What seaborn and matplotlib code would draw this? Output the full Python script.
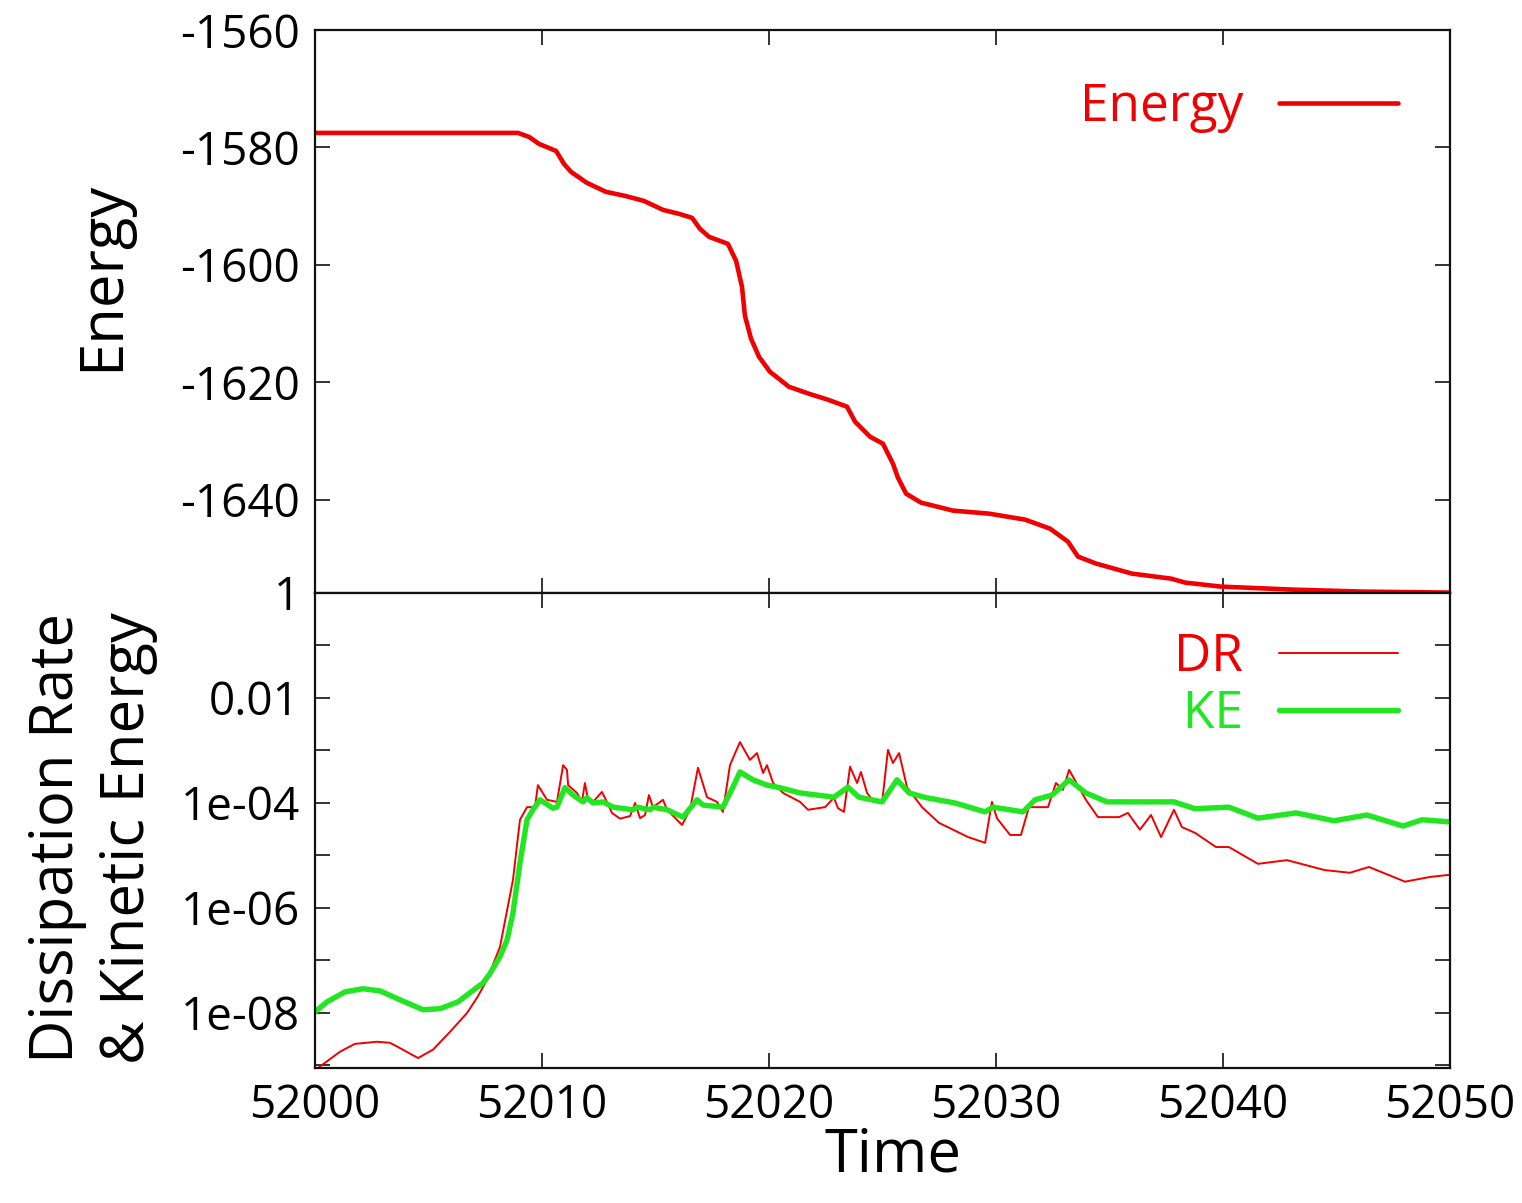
import numpy as np
import pandas as pd
import matplotlib
matplotlib.use("Agg")
import matplotlib.pyplot as plt
import seaborn as sns
from matplotlib.ticker import FixedLocator, NullFormatter, FixedFormatter

# ---------------- data ----------------
t_energy = [52000.0, 52008.94, 52009.43, 52009.87, 52010.62, 52010.97, 52011.28, 52011.98,
            52012.82, 52013.66, 52014.49, 52015.33, 52016.04, 52016.61, 52016.96, 52017.36,
            52018.19, 52018.55, 52018.81, 52018.94, 52019.21, 52019.56, 52020.04, 52020.88,
            52021.76, 52022.60, 52023.44, 52023.79, 52024.45, 52025.02, 52025.46, 52025.68,
            52026.04, 52026.70, 52028.11, 52029.69, 52031.28, 52032.38, 52033.17, 52033.61,
            52034.41, 52035.99, 52037.71, 52038.33, 52039.91, 52043.04, 52046.17, 52050.0]
energy = [-1577.53, -1577.53, -1578.21, -1579.40, -1580.60, -1582.81, -1584.17, -1586.04,
          -1587.57, -1588.26, -1589.11, -1590.64, -1591.32, -1592.00, -1593.87, -1595.23,
          -1596.43, -1599.32, -1603.74, -1608.68, -1612.60, -1615.66, -1618.21, -1620.77,
          -1621.96, -1622.98, -1624.17, -1626.72, -1629.28, -1630.47, -1633.87, -1636.26,
          -1638.98, -1640.51, -1641.87, -1642.38, -1643.40, -1644.94, -1647.15, -1649.70,
          -1650.89, -1652.60, -1653.45, -1654.13, -1654.81, -1655.32, -1655.66, -1655.83]

t_ke = [52000.0, 52000.53, 52001.32, 52002.11, 52002.86, 52003.74, 52004.76, 52005.51, 52006.30,
        52007.00, 52007.40, 52007.71, 52008.15, 52008.46, 52008.72,
        52009.03, 52009.34, 52009.60, 52009.91, 52010.48, 52010.66, 52011.01, 52011.37, 52011.81,
        52011.98, 52012.25, 52012.69, 52013.13, 52014.01, 52014.19, 52014.76, 52014.89, 52015.51,
        52016.21, 52016.83, 52017.09, 52017.97, 52018.41, 52018.72, 52019.30, 52019.91, 52020.48,
        52021.37, 52022.86, 52023.48, 52023.96, 52024.98, 52025.64, 52026.17, 52026.92, 52028.19,
        52029.52, 52029.87, 52031.19, 52031.72, 52032.47, 52033.22, 52033.96, 52034.89, 52036.17,
        52037.84, 52038.77, 52040.26, 52041.54, 52043.22, 52044.89, 52046.34, 52047.93, 52048.77,
        52049.96]
ke_log10 = [-7.98, -7.79, -7.60, -7.54, -7.58, -7.75, -7.94, -7.92, -7.79,
            -7.56, -7.43, -7.25, -6.93, -6.61, -6.10,
            -5.14, -4.32, -4.13, -3.94, -4.10, -4.08, -3.71, -3.85, -3.98,
            -3.90, -4.00, -3.98, -4.08, -4.13, -4.08, -4.13, -4.08, -4.13,
            -4.27, -3.94, -4.04, -4.08, -3.70, -3.41, -3.56, -3.66, -3.71,
            -3.81, -3.89, -3.70, -3.89, -3.98, -3.56, -3.81, -3.90, -4.00,
            -4.17, -4.08, -4.17, -3.94, -3.85, -3.56, -3.81, -3.98, -3.98,
            -3.98, -4.11, -4.08, -4.29, -4.19, -4.34, -4.23, -4.44, -4.32,
            -4.36]

t_dr = [52000.13, 52001.10, 52001.76, 52002.73, 52003.30, 52003.74, 52004.54, 52005.20, 52005.95,
        52006.70, 52007.14, 52007.58, 52008.15,
        52008.72, 52009.03, 52009.34, 52009.69, 52009.82, 52010.22, 52010.66, 52010.93, 52011.10,
        52011.15, 52011.54, 52011.76, 52011.89, 52012.03, 52012.25, 52012.64, 52012.86, 52013.08,
        52013.44, 52013.88, 52014.10, 52014.32, 52014.54, 52014.71, 52014.89, 52015.33, 52015.51,
        52016.17, 52016.52, 52016.87, 52017.27, 52017.71, 52017.97, 52018.28, 52018.72, 52019.16,
        52019.47, 52019.74, 52019.91, 52020.18, 52020.62, 52021.37, 52021.72, 52022.47, 52022.86,
        52023.04, 52023.30, 52023.57, 52023.88, 52024.05, 52024.32, 52024.63, 52024.98, 52025.24,
        52025.46, 52025.73, 52026.08, 52026.74, 52027.49, 52028.77, 52029.52, 52029.82, 52030.04,
        52030.62, 52031.10, 52031.45, 52032.29, 52032.64, 52032.95, 52033.22, 52033.96, 52034.49,
        52035.42, 52035.81, 52036.34, 52036.83, 52037.27, 52037.84, 52038.19, 52038.77, 52039.69,
        52040.26, 52041.54, 52042.82, 52044.49, 52045.59, 52046.43, 52048.02, 52049.12, 52049.96]
dr_log10 = [-9.05, -8.74, -8.59, -8.55, -8.57, -8.67, -8.86, -8.70, -8.36,
            -8.00, -7.71, -7.37, -6.74,
            -5.47, -4.32, -4.08, -4.08, -3.66, -3.94, -3.98, -3.28, -3.37,
            -3.66, -3.81, -3.98, -3.62, -3.94, -3.98, -3.79, -3.98, -4.19,
            -4.30, -4.25, -4.00, -4.29, -4.23, -3.85, -4.08, -3.94, -4.13,
            -4.42, -4.13, -3.33, -3.89, -3.98, -4.17, -3.28, -2.84, -3.18,
            -3.05, -3.43, -3.28, -3.62, -3.81, -3.98, -4.13, -4.08, -3.90,
            -4.10, -4.17, -3.31, -3.62, -3.41, -3.81, -3.98, -4.00, -2.99,
            -3.24, -3.05, -3.70, -4.08, -4.38, -4.65, -4.76, -3.98, -4.29,
            -4.61, -4.61, -4.08, -4.08, -3.62, -3.75, -3.37, -3.94, -4.27,
            -4.27, -4.19, -4.51, -4.23, -4.65, -4.13, -4.46, -4.57, -4.84,
            -4.84, -5.16, -5.09, -5.28, -5.33, -5.22, -5.50, -5.41, -5.37]

x_ticks = [52000, 52010, 52020, 52030, 52040, 52050]
x_ticklabels = ["52000", "52010", "52020", "52030", "52040", "52050"]
e_ticks = [-1640, -1620, -1600, -1580, -1560]
e_ticklabels = ["-1640", "-1620", "-1600", "-1580", "-1560"]
log_ticks = [1e-8, 1e-6, 1e-4, 1e-2, 1.0]
log_ticklabels = ["1e-08", "1e-06", "1e-04", "0.01", "1"]
log_minor = [1e-9, 1e-7, 1e-5, 1e-3, 1e-1]

df_e = pd.DataFrame({"Time": t_energy, "Energy": energy})
df_ke = pd.DataFrame({"Time": t_ke, "KE": 10.0 ** np.array(ke_log10)})
df_dr = pd.DataFrame({"Time": t_dr, "DR": 10.0 ** np.array(dr_log10)})

# ---------------- style ----------------
sns.set_style("ticks")
plt.rcParams["font.family"] = ["Open Sans", "DejaVu Sans"]
plt.rcParams["axes.unicode_minus"] = False
plt.rcParams["text.color"] = "black"
plt.rcParams["axes.labelcolor"] = "black"
plt.rcParams["xtick.color"] = "black"
plt.rcParams["ytick.color"] = "black"

RED = "#f00000"
GREEN = "#22e622"
FS_TICK = 33
FS_LABEL = 43
FS_LEG = 37

fig = plt.figure(figsize=(15.22, 12.03), dpi=100)
W, H = 1522, 1203
L, R = 315, 1450
ax1 = fig.add_axes([L / W, 1 - 593 / H, (R - L) / W, (593 - 30) / H])
ax2 = fig.add_axes([L / W, 1 - 1068 / H, (R - L) / W, (1068 - 593) / H])

sns.lineplot(data=df_e, x="Time", y="Energy", ax=ax1, color=RED, lw=3.3,
             estimator=None, sort=False, label="Energy")
sns.lineplot(data=df_dr, x="Time", y="DR", ax=ax2, color=RED, lw=1.4,
             estimator=None, sort=False, label="DR")
sns.lineplot(data=df_ke, x="Time", y="KE", ax=ax2, color=GREEN, lw=3.9,
             estimator=None, sort=False, label="KE")

for ax in (ax1, ax2):
    ax.set_xlim(52000, 52050)
    ax.xaxis.set_major_locator(FixedLocator(x_ticks))
    for sp in ax.spines.values():
        sp.set_visible(True)
        sp.set_linewidth(1.6)
        sp.set_color("#111111")
    ax.tick_params(which="both", direction="in", top=True, right=True,
                   length=11, width=1.4, color="#333333", labelcolor="black",
                   labelsize=FS_TICK, pad=11)

# top panel
ax1.set_ylim(-1655.9, -1560)
ax1.yaxis.set_major_locator(FixedLocator(e_ticks))
ax1.yaxis.set_major_formatter(FixedFormatter(e_ticklabels))
ax1.tick_params(axis="x", labelbottom=False)
ax1.set_xlabel("")
ax1.set_ylabel("Energy", fontsize=FS_LABEL, color="black")
ax1.yaxis.set_label_coords(-0.161, 0.563)

# bottom panel
ax2.set_yscale("log")
ax2.set_ylim(10 ** -9.05, 1.0)
ax2.yaxis.set_major_locator(FixedLocator(log_ticks))
ax2.yaxis.set_major_formatter(FixedFormatter(log_ticklabels))
ax2.yaxis.set_minor_locator(FixedLocator(log_minor))
ax2.yaxis.set_minor_formatter(NullFormatter())
ax2.xaxis.set_major_formatter(FixedFormatter(x_ticklabels))
ax2.set_xlabel("Time", fontsize=FS_LABEL, color="black")
ax2.xaxis.set_label_coords(0.509, -0.122)
ax2.set_ylabel("Dissipation Rate\n& Kinetic Energy", fontsize=FS_LABEL,
               linespacing=1.25, color="black")
ax2.yaxis.set_label_coords(-0.138, 0.484)

# legends (gnuplot style: text then sample)
ax1.legend(loc="upper right", frameon=False, markerfirst=False, fontsize=FS_LEG,
           handlelength=2.3, handletextpad=0.7, labelcolor="linecolor",
           borderaxespad=0.0, bbox_to_anchor=(0.972, 0.945))
ax2.legend(loc="upper right", frameon=False, markerfirst=False, fontsize=FS_LEG,
           handlelength=2.3, handletextpad=0.7, labelcolor="linecolor",
           borderaxespad=0.0, bbox_to_anchor=(0.972, 0.962), labelspacing=0.12)

fig.savefig("out.png", dpi=100, facecolor="white")
